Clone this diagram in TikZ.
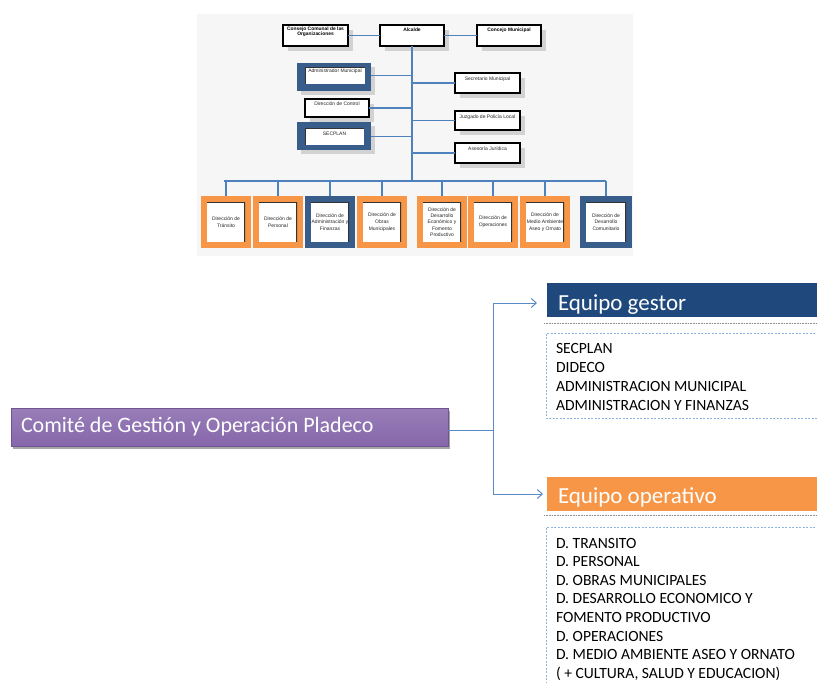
\documentclass[tikz,border=0pt]{standalone}
\usepackage{fontspec}
\setmainfont{Carlito}
\newfontfamily\orgf{Liberation Sans}
\usetikzlibrary{arrows.meta}
\definecolor{orgbg}{HTML}{F6F6F6}
\definecolor{orglink}{HTML}{4F81BD}
\definecolor{frblue}{HTML}{385D8A}
\definecolor{frorange}{HTML}{F79646}
\definecolor{hdrblue}{HTML}{1F497D}
\definecolor{hdrorange}{HTML}{F79646}
\definecolor{comite}{HTML}{8667AB}
\definecolor{comiteedge}{HTML}{6F5592}
\definecolor{dashblue}{HTML}{8DB3E2}
\definecolor{shadowgray}{HTML}{D2D2D2}
\definecolor{linkblue}{HTML}{5B8BC6}
\begin{document}
\begin{tikzpicture}[x=1pt,y=-1pt,
  every node/.style={inner sep=0pt, outer sep=0pt},
  orgtxt/.style={font=\orgf\fontsize{5}{6.8}\selectfont, align=center, text=black!85},
  orgtxtb/.style={font=\orgf\bfseries\fontsize{4.9}{5.6}\selectfont, align=center, text=black},
  wbox/.style={anchor=north west, draw=black, line width=1.5pt, fill=white,
    preaction={fill=shadowgray, transform canvas={xshift=5pt,yshift=-5pt}}},
  frame/.style={anchor=north west, fill=#1},
  innerR/.style={anchor=center, fill=white,
    path picture={\draw[line width=1.6pt, black!80]
      (path picture bounding box.north west) -- (path picture bounding box.north east)
      -- (path picture bounding box.south east);}},
  innerL/.style={anchor=north west, fill=white,
    path picture={\draw[line width=1.6pt, black!80]
      (path picture bounding box.south west) -- (path picture bounding box.north west)
      -- (path picture bounding box.north east);}},
  orgline/.style={draw=orglink, line width=1.1pt},
  trunkline/.style={draw=orglink, line width=1.8pt},
  link/.style={draw=linkblue, line width=1pt},
  tip/.style={-{Straight Barb[length=5pt,width=9pt]}},
  hdr/.style={anchor=north west, minimum width=280pt, minimum height=34pt},
  hdrtxt/.style={anchor=base west, text=white, font=\fontsize{23}{27}\selectfont},
  listtxt/.style={anchor=north west, align=left, text=black, font=\fontsize{15.6}{19}\selectfont},
  sepline/.style={draw=black!45, line width=0.9pt, dash pattern=on 1pt off 0.6pt},
  dashbox/.style={draw=dashblue, line width=0.9pt, dash pattern=on 2pt off 1.5pt}
]
\useasboundingbox (0,0) rectangle (817,683);
\clip (0,0) rectangle (817,683);

% ---------- organisation chart ----------
\fill[orgbg] (197,14) rectangle (633,256);

% top row
\node[wbox, minimum width=65pt, minimum height=21pt] (consejo) at (283,25) {};
\node[orgtxtb, anchor=north] (consejot) at ([yshift=-1.8pt]consejo.north) {Consejo Comunal de las\\Organizaciones};
\node[wbox, minimum width=64pt, minimum height=21pt] (alcalde) at (380,25) {};
\node[orgtxtb, anchor=north] (alcaldet) at ([yshift=-3pt]alcalde.north) {Alcalde};
\node[wbox, minimum width=64pt, minimum height=21pt] (concejo) at (477,25) {};
\node[orgtxtb, anchor=north] (concejot) at ([yshift=-3pt]concejo.north) {Concejo Municipal};

\coordinate (busmid) at (412,181);

% left staff
\node[frame=frblue, minimum width=74pt, minimum height=28pt,
  preaction={fill=shadowgray, transform canvas={xshift=4pt,yshift=-4pt}}] (adminfr) at (297,63) {};
\node[innerL, minimum width=60pt, minimum height=17pt] (adminin) at (305,67) {};
\node[orgtxt, anchor=north] (admint) at ([yshift=-2pt]adminin.north) {Administrador Municipal};

\node[wbox, minimum width=64pt, minimum height=18pt] (control) at (305,99) {};
\node[orgtxt, anchor=north] (controlt) at ([yshift=-2.5pt]control.north) {Dirección de Control};

\node[frame=frblue, minimum width=74pt, minimum height=28pt,
  preaction={fill=shadowgray, transform canvas={xshift=4pt,yshift=-4pt}}] (secfr) at (297,122) {};
\node[innerL, minimum width=59pt, minimum height=17pt] (secin) at (305,128) {};
\node[orgtxt, anchor=north] (sect) at ([yshift=-4.5pt]secin.north) {SECPLAN};

% right staff
\node[wbox, minimum width=65pt, minimum height=20pt] (secretario) at (455,73) {};
\node[orgtxt, anchor=north] (secretariot) at ([yshift=-4pt]secretario.north) {Secretario Municipal};
\node[wbox, minimum width=65pt, minimum height=19pt] (juzgado) at (455,111) {};
\node[orgtxt, anchor=north] (juzgadot) at ([yshift=-3.5pt]juzgado.north) {Juzgado de Policía Local};
\node[wbox, minimum width=65pt, minimum height=20pt] (asesoria) at (455,143) {};
\node[orgtxt, anchor=north] (asesoriat) at ([yshift=-4pt]asesoria.north) {Asesoría Jurídica};

% bottom row
\node[frame=frorange, minimum width=50pt, minimum height=52pt] (d1) at (201,196) {};
\node[innerR, orgtxt, minimum width=38pt, minimum height=40pt] (d1in) at (d1.center) {Dirección de\\Tránsito};
\node[frame=frorange, minimum width=50pt, minimum height=52pt] (d2) at (253,196) {};
\node[innerR, orgtxt, minimum width=38pt, minimum height=40pt] (d2in) at (d2.center) {Dirección de\\Personal};
\node[frame=frblue, minimum width=50pt, minimum height=52pt] (d3) at (305,196) {};
\node[innerR, orgtxt, minimum width=38pt, minimum height=40pt] (d3in) at (d3.center) {Dirección de\\Administración y\\Finanzas};
\node[frame=frorange, minimum width=50pt, minimum height=52pt] (d4) at (357,196) {};
\node[innerR, orgtxt, minimum width=38pt, minimum height=40pt] (d4in) at (d4.center) {Dirección de\\Obras\\Municipales};
\node[frame=frorange, minimum width=50pt, minimum height=52pt] (d5) at (417,196) {};
\node[innerR, orgtxt, font=\orgf\fontsize{5}{6.2}\selectfont, minimum width=38pt, minimum height=40pt] (d5in) at (d5.center) {Dirección de\\Desarrollo\\Económico y\\Fomento\\Productivo};
\node[frame=frorange, minimum width=50pt, minimum height=52pt] (d6) at (468,196) {};
\node[innerR, orgtxt, minimum width=38pt, minimum height=40pt] (d6in) at (d6.center) {Dirección de\\Operaciones};
\node[frame=frorange, minimum width=50pt, minimum height=52pt] (d7) at (520,196) {};
\node[innerR, orgtxt, minimum width=38pt, minimum height=40pt] (d7in) at (d7.center) {Dirección de\\Medio Ambiente\\Aseo y Ornato};
\node[frame=frblue, minimum width=52pt, minimum height=52pt] (d8) at (580,196) {};
\node[innerR, orgtxt, minimum width=40pt, minimum height=40pt] (d8in) at (d8.center) {Dirección de\\Desarrollo\\Comunitario};

% org connectors
\draw[orgline] (consejo.east) -- (alcalde.west);
\draw[orgline] (alcalde.east) -- (concejo.west);
\draw[trunkline] (alcalde.south) -- (busmid);
\draw[orgline] (adminin.east -| adminfr.east) -- (adminin.east -| busmid);
\draw[orgline] (control.east) -- (control.east -| busmid);
\draw[orgline] (secin.east -| secfr.east) -- (secin.east -| busmid);
\draw[orgline] (secretario.west -| busmid) -- (secretario.west);
\draw[orgline] (juzgado.west -| busmid) -- (juzgado.west);
\draw[orgline] (asesoria.west -| busmid) -- (asesoria.west);
\draw[orgline] ([xshift=-2pt]d1.north |- busmid) -- (d8.north |- busmid);
\foreach \d in {d1,d2,d3,d4,d5,d6,d7,d8}{
  \draw[orgline] (\d.north |- busmid) -- (\d.north);
}

% ---------- committee ----------
\node[anchor=north west, minimum width=437pt, minimum height=38pt, text width=417pt,
  inner xsep=10pt, align=flush left, top color=comite!85!white, bottom color=comite,
  draw=comiteedge, line width=0.8pt, text=white, font=\fontsize{22}{26}\selectfont,
  preaction={fill=black!35, transform canvas={xshift=1.5pt,yshift=-2.5pt}}]
  (comite) at (11,408) {Comité de Gestión y Operación Pladeco};

\node[hdr, fill=hdrblue] (gestor) at (547,283) {};
\node[hdrtxt] (gestort) at (558,310) {Equipo gestor};
\draw[sepline] (544,323) -- (817,323);
\draw[dashbox] (822,333) -- (546,333) -- (546,418) -- (822,418);
\node[listtxt] (gestorlist) at (556,343) {SECPLAN\\DIDECO\\ADMINISTRACION MUNICIPAL\\ADMINISTRACION Y FINANZAS};

\node[hdr, fill=hdrorange] (operativo) at (547,477) {};
\node[hdrtxt] (operativot) at (558,503) {Equipo operativo};
\draw[sepline] (544,515) -- (817,515);
\draw[dashbox] (822,527) -- (546,527) -- (546,690);
\node[listtxt, font=\fontsize{15.6}{18.6}\selectfont] (operativolist) at (556,538) {D. TRANSITO\\D. PERSONAL\\D. OBRAS MUNICIPALES\\D. DESARROLLO ECONOMICO Y\\FOMENTO PRODUCTIVO\\D. OPERACIONES\\D. MEDIO AMBIENTE ASEO Y ORNATO\\( + CULTURA, SALUD Y EDUCACION)};

\coordinate (split) at (493,430);
\draw[link] ([yshift=-3pt]comite.east) -- (split);
\draw[link, tip] (split) |- ([xshift=-10pt,yshift=-3pt]gestor.west);
\draw[link, tip] (split) |- ([xshift=-4pt]operativo.west);
\end{tikzpicture}
\end{document}
